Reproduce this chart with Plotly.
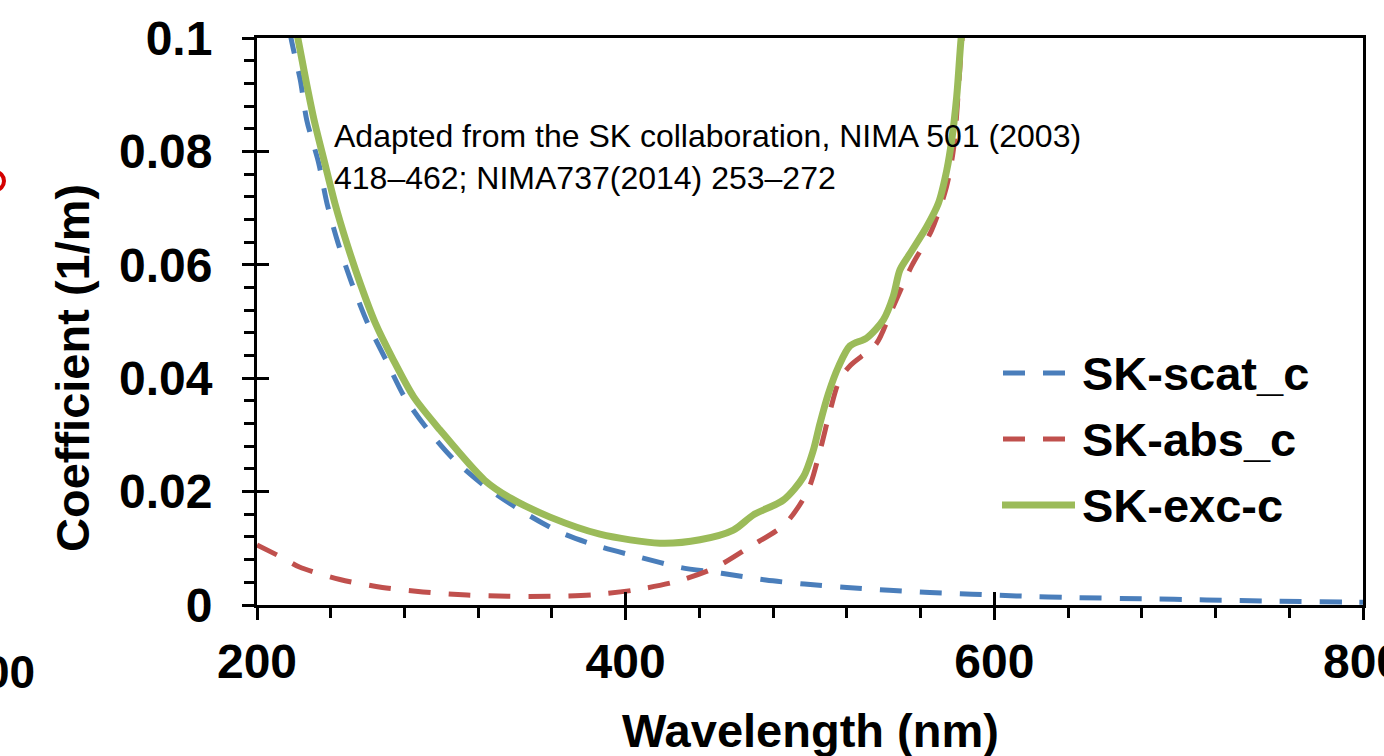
import plotly.graph_objects as go

# Wavelength (nm) and coefficients (1/m) for each series
scat_wl = [214, 219, 223.5, 227, 233.5, 238, 244, 251.5, 260, 270, 280, 292, 307, 325,
           344, 364, 386, 408, 430, 452, 476, 497, 520, 543, 565, 588, 612, 645, 680,
           715, 750, 790, 800]
scat_c = [0.108, 0.0991, 0.0926, 0.0855, 0.0779, 0.0708, 0.0638, 0.0567, 0.0497, 0.0432,
          0.0367, 0.0312, 0.0256, 0.0206, 0.0165, 0.0129, 0.0103, 0.0084, 0.0066, 0.0056,
          0.0044, 0.0037, 0.0031, 0.0026, 0.0022, 0.0019, 0.0016, 0.0013, 0.0011, 0.0009,
          0.0007, 0.00053, 0.0005]

abs_wl = [200, 214, 223, 245, 268, 290, 314, 336, 359, 382, 404, 427, 448, 467.5, 486.5,
          499, 505.5, 511, 516, 522, 536, 543.5, 555, 566, 574, 578, 581.5, 584]
abs_c = [0.0106, 0.0083, 0.0067, 0.0045, 0.0031, 0.0023, 0.00176, 0.00153, 0.00153, 0.0018,
         0.0026, 0.0041, 0.0065, 0.0103, 0.0143, 0.0203, 0.0273, 0.0344, 0.0397, 0.0423,
         0.0461, 0.0514, 0.0597, 0.0661, 0.0737, 0.0808, 0.0956, 0.106]

exc_wl = [220, 222, 226.5, 231, 236.8, 242.3, 248.7, 256, 264.2, 274, 285, 299.2,
          323.5, 337.8, 359, 386, 418.6, 440.3, 458.4, 469.3, 485.5, 496.4, 501.8, 505.4,
          510, 515.4, 521.7, 530.8, 539.8, 545.2, 548.8, 554.3, 563.3, 569.6, 574.2, 576.9,
          579.6, 582, 583.5]
exc_c = [0.103, 0.1002, 0.0926, 0.0855, 0.0779, 0.0708, 0.0638, 0.0567, 0.0497, 0.0432,
         0.0367, 0.0309, 0.022, 0.0188, 0.0155, 0.0125, 0.0109, 0.0115, 0.0132, 0.0159,
         0.0185, 0.0226, 0.0273, 0.032, 0.0373, 0.042, 0.0457, 0.0471, 0.0503, 0.0545,
         0.0591, 0.062, 0.0667, 0.0708, 0.0767, 0.082, 0.0897, 0.1, 0.104]

series_names = ["SK-scat_c", "SK-abs_c", "SK-exc-c"]
series_colors = ["#4a7ebb", "#c0504d", "#9bbb59"]

x_ticks = [200, 400, 600, 800]
y_ticks = [0, 0.02, 0.04, 0.06, 0.08, 0.1]
y_tick_text = ["0", "0.02", "0.04", "0.06", "0.08", "0.1"]

W, H = 1384, 756
L, R, T, B = 257, 21, 38, 151
FONT = "Arial, Liberation Sans, sans-serif"


def px(xp):
    return (xp - L) / (W - L - R)


def py(yp):
    return (H - B - yp) / (H - T - B)


fig = go.Figure()
dash_style = "22px,18px"
fig.add_trace(go.Scatter(x=scat_wl, y=scat_c, mode="lines", name=series_names[0],
                         line=dict(color=series_colors[0], width=5, dash=dash_style,
                                   shape="spline", smoothing=0.8), showlegend=False))
fig.add_trace(go.Scatter(x=abs_wl, y=abs_c, mode="lines", name=series_names[1],
                         line=dict(color=series_colors[1], width=5, dash=dash_style,
                                   shape="spline", smoothing=0.8), showlegend=False))
fig.add_trace(go.Scatter(x=exc_wl, y=exc_c, mode="lines", name=series_names[2],
                         line=dict(color=series_colors[2], width=7,
                                   shape="spline", smoothing=0.8), showlegend=False))
# empty trace that carries the overlay axes (inner half of the major ticks)
fig.add_trace(go.Scatter(x=[], y=[], xaxis="x2", yaxis="y2", showlegend=False,
                         hoverinfo="skip"))

tick_font = dict(family=FONT, size=48, color="black", weight="bold")
common = dict(showgrid=False, zeroline=False, ticks="outside", tickwidth=3,
              tickcolor="black", ticklen=12, linecolor="black", linewidth=3,
              mirror=True, showline=True, tickfont=tick_font, automargin=False)

fig.update_layout(
    width=W, height=H,
    margin=dict(l=L, r=R, t=T, b=B, pad=0, autoexpand=False),
    paper_bgcolor="white", plot_bgcolor="white",
    xaxis=dict(range=[200, 800], tickvals=x_ticks, ticktext=[str(v) for v in x_ticks],
               minor=dict(dtick=40, tick0=200, ticks="outside", ticklen=10,
                          tickwidth=3, tickcolor="black"),
               ticklabelstandoff=0, ticklabeloverflow="allow", **common),
    yaxis=dict(range=[0, 0.1], tickvals=y_ticks, ticktext=y_tick_text,
               minor=dict(dtick=0.004, tick0=0, ticks="outside", ticklen=10,
                          tickwidth=3, tickcolor="black"),
               ticklabelstandoff=20, **common),
    xaxis2=dict(range=[200, 800], overlaying="x", anchor="y2", side="bottom",
                tickvals=x_ticks, ticks="inside", ticklen=13, tickwidth=3,
                tickcolor="black", showticklabels=False, showline=False,
                showgrid=False, zeroline=False, automargin=False),
    yaxis2=dict(range=[0, 0.1], overlaying="y", anchor="x2", side="left",
                tickvals=y_ticks, ticks="inside", ticklen=12, tickwidth=3,
                tickcolor="black", showticklabels=False, showline=False,
                showgrid=False, zeroline=False, automargin=False),
)

annotations = [
    # axis titles
    dict(text="Wavelength (nm)", x=px(810), y=py(730), xref="paper", yref="paper",
         xanchor="center", yanchor="middle", showarrow=False,
         font=dict(family=FONT, size=47, color="black", weight="bold")),
    dict(text="Coefficient (1/m)", x=px(72), y=py(368), xref="paper", yref="paper",
         xanchor="center", yanchor="middle", showarrow=False, textangle=-90,
         font=dict(family=FONT, size=47, color="black", weight="bold")),
    # source note
    dict(text="Adapted from the SK collaboration, NIMA 501 (2003)<br>"
              "418\u2013462; NIMA737(2014) 253\u2013272",
         x=px(332), y=py(116), xref="paper", yref="paper",
         xanchor="left", yanchor="top", align="left", showarrow=False,
         font=dict(family=FONT, size=32, color="black")),
    # neighbouring panel's axis label at the left edge
    dict(text="00", x=px(37), y=py(672), xref="paper", yref="paper",
         xanchor="right", yanchor="middle", showarrow=False,
         font=dict(family=FONT, size=46, color="black", weight="bold")),
]

shapes = [
    dict(type="circle", xref="paper", yref="paper",
         x0=px(-13), x1=px(4), y0=py(190), y1=py(172),
         line=dict(color="#d40000", width=4)),
]

# legend drawn as line samples plus labels
legend_rows = [373, 439, 505]
for name, color, row, i in zip(series_names, series_colors, legend_rows, range(3)):
    if i < 2:
        shapes.append(dict(type="line", xref="paper", yref="paper",
                           x0=px(1003), x1=px(1068), y0=py(row), y1=py(row),
                           line=dict(color=color, width=5, dash=dash_style)))
    else:
        shapes.append(dict(type="line", xref="paper", yref="paper",
                           x0=px(1002), x1=px(1075), y0=py(row), y1=py(row),
                           line=dict(color=color, width=7)))
    annotations.append(dict(text=name, x=px(1080), y=py(row), xref="paper", yref="paper",
                            xanchor="left", yanchor="middle", showarrow=False,
                            font=dict(family=FONT, size=47, color="black",
                                      weight="bold")))

fig.update_layout(annotations=annotations, shapes=shapes)
fig.write_html("out.html")
